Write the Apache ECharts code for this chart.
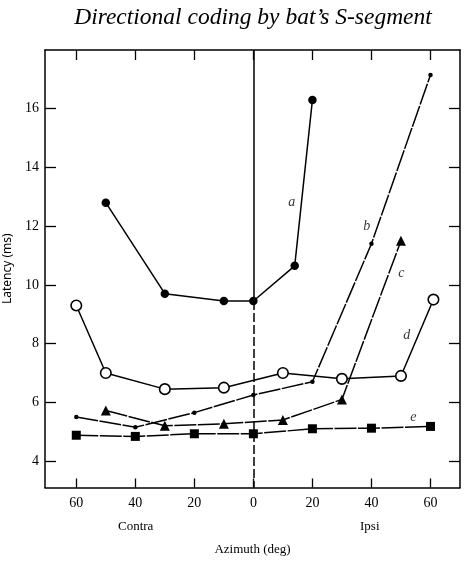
<!DOCTYPE html>
<html><head><meta charset="utf-8">
<script src="https://cdn.jsdelivr.net/npm/echarts@6/dist/echarts.min.js"></script>
<style>html,body{margin:0;padding:0;background:#fff}#c{width:471px;height:563px}</style>
</head><body><div id="c"></div>
<script>
// Azimuth (deg): negative = contra, positive = ipsi
const seriesA = [[-50,12.8],[-30,9.7],[-10,9.45],[0,9.45],[14,10.65],[20,16.3]];
const seriesB = [[-60,5.5],[-40,5.15],[-20,5.65],[0,6.25],[20,6.7],[40,11.4],[60,17.15]];
const seriesC = [[-50,5.72],[-30,5.2],[-10,5.27],[10,5.4],[30,6.1],[50,11.5]];
const seriesD = [[-60,9.3],[-50,7.0],[-30,6.45],[-10,6.5],[10,7.0],[30,6.8],[50,6.9],[61,9.5]];
const seriesE = [[-60,4.88],[-40,4.84],[-20,4.93],[0,4.93],[20,5.1],[40,5.12],[60,5.18]];
const curveLabels = [[13,12.8,'a'],[38.4,12.0,'b'],[50.1,10.4,'c'],[52,8.3,'d'],[54.2,5.5,'e']];
const xTicks = [-60,-40,-20,0,20,40,60];
const yTicks = [4,6,8,10,12,14,16];

const serif = '"Liberation Serif", "DejaVu Serif", serif';
const sans = '"Noto Sans", "DejaVu Sans", sans-serif';
const chart = echarts.init(document.getElementById('c'), null, {renderer:'canvas'});

function axisCommon(){
  return {
    axisLine:{show:true, onZero:false, lineStyle:{color:'#000', width:1.5}},
    splitLine:{show:false}
  };
}
const dash = [22,1.5];
const lineBase = {type:'line', z:3, lineStyle:{color:'#000', width:1.5}, itemStyle:{color:'#000'}, emphasis:{disabled:true}};

chart.setOption({
  animation:false,
  title:{text:"Directional coding by bat’s S-segment", left:248, textAlign:'center', top:1,
    textStyle:{fontFamily:serif, fontStyle:'italic', fontWeight:'normal', fontSize:23.5, color:'#000'}},
  grid:{left:45, right:11, top:50, bottom:75.5, containLabel:false, outerBoundsMode:'none'},
  xAxis:[
    Object.assign(axisCommon(), {type:'value', min:-70.6, max:70, position:'bottom',
      axisTick:{show:true, inside:true, length:9, customValues:xTicks, lineStyle:{color:'#000', width:1.3}},
      axisLabel:{customValues:xTicks, formatter:v=>String(Math.abs(v)), fontFamily:serif, fontSize:14, color:'#000', margin:9},
      name:'Azimuth (deg)', nameLocation:'middle', nameGap:56,
      nameTextStyle:{fontFamily:serif, fontSize:13, color:'#000'}}),
    Object.assign(axisCommon(), {type:'value', min:-70.6, max:70, position:'top',
      axisTick:{show:true, inside:true, length:10, customValues:xTicks, lineStyle:{color:'#000', width:1.3}},
      axisLabel:{show:false}})
  ],
  yAxis:[
    Object.assign(axisCommon(), {type:'value', min:3.1, max:18, position:'left',
      axisTick:{show:true, inside:true, length:11, customValues:yTicks, lineStyle:{color:'#000', width:1.3}},
      axisLabel:{customValues:yTicks, fontFamily:serif, fontSize:14, color:'#000', margin:6},
      name:'Latency (ms)', nameLocation:'middle', nameGap:31,
      nameTextStyle:{fontFamily:sans, fontSize:12, color:'#000'}}),
    Object.assign(axisCommon(), {type:'value', min:3.1, max:18, position:'right',
      axisTick:{show:true, inside:true, length:11, customValues:yTicks, lineStyle:{color:'#000', width:1.3}},
      axisLabel:{show:false}})
  ],
  graphic:[
    {type:'text', left:118, top:520, style:{text:'Contra', font:'13px '+serif, fill:'#000'}},
    {type:'text', left:360, top:520, style:{text:'Ipsi', font:'13px '+serif, fill:'#000'}}
  ],
  series:[
    Object.assign({}, lineBase, {name:'a', data:seriesA, symbol:'circle', symbolSize:8.5,
      markLine:{silent:true, symbol:'none', label:{show:false},
        data:[
          [{coord:[0,18]},{coord:[0,9.45]}],
          [{coord:[0,9.45], lineStyle:{type:[9,3]}},{coord:[0,3.1]}]
        ],
        lineStyle:{color:'#000', width:1.5, type:'solid'}}}),
    Object.assign({}, lineBase, {name:'b', data:seriesB, symbol:'circle', symbolSize:4.5,
      lineStyle:{color:'#000', width:1.5, type:dash}}),
    Object.assign({}, lineBase, {name:'c', data:seriesC, symbol:'triangle', symbolSize:10,
      lineStyle:{color:'#000', width:1.5, type:dash}}),
    Object.assign({}, lineBase, {name:'d', data:seriesD, symbol:'circle', symbolSize:10.5,
      itemStyle:{color:'#fff', borderColor:'#000', borderWidth:1.6}}),
    Object.assign({}, lineBase, {name:'e', data:seriesE, symbol:'rect', symbolSize:9,
      lineStyle:{color:'#000', width:1.5, type:dash}}),
    {type:'scatter', name:'labels', data:curveLabels, symbolSize:0, z:4, silent:true,
      label:{show:true, position:'inside', formatter:p=>p.data[2],
        fontFamily:serif, fontStyle:'italic', fontSize:14, color:'#000'}}
  ]
});
</script></body></html>
